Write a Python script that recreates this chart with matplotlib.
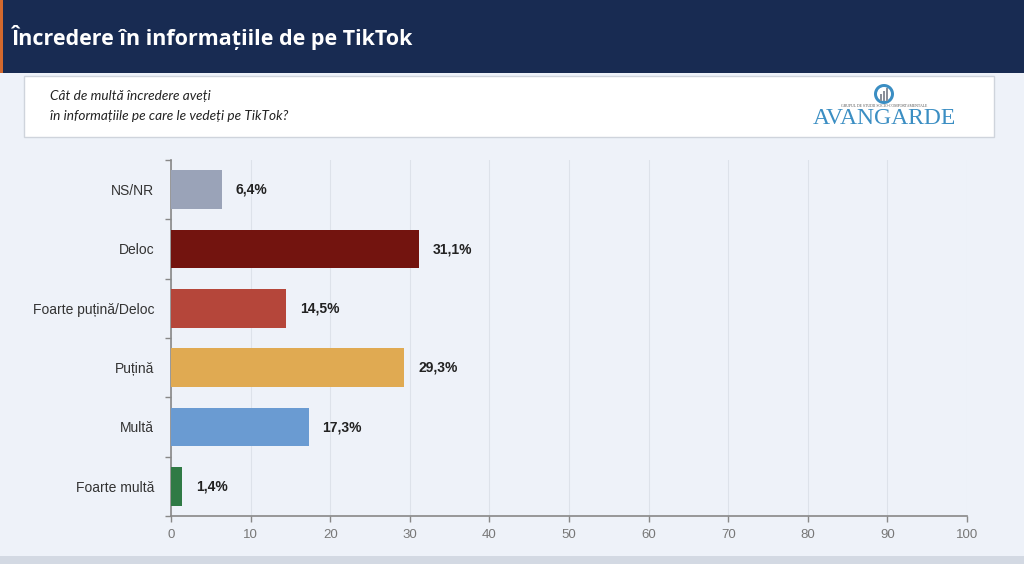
import matplotlib.pyplot as plt
from matplotlib.patches import Rectangle, Ellipse

# date sondaj
categorii = ["NS/NR", "Deloc", "Foarte puțină/Deloc", "Puțină", "Multă", "Foarte multă"]
valori = [6.4, 31.1, 14.5, 29.3, 17.3, 1.4]
etichete = ["6,4%", "31,1%", "14,5%", "29,3%", "17,3%", "1,4%"]
culori = ["#9aa3b8", "#73140f", "#b5463a", "#e0aa52", "#6a9bd2", "#2f7a45"]
ticks_x = [0, 10, 20, 30, 40, 50, 60, 70, 80, 90, 100]

titlu = "Încredere în informațiile de pe TikTok"
intrebare = "Cât de multă încredere aveți\nîn informațiile pe care le vedeți pe TikTok?"

W, H = 1024, 564
fig = plt.figure(figsize=(W / 100, H / 100), dpi=100)
fig.patch.set_facecolor("#eef2f9")

# bara de titlu
fig.patches.append(Rectangle((0, 1 - 73 / H), 1, 73 / H, transform=fig.transFigure,
                             facecolor="#182b52", edgecolor="none", zorder=0))
fig.patches.append(Rectangle((0, 1 - 73 / H), 3 / W, 73 / H, transform=fig.transFigure,
                             facecolor="#d2692e", edgecolor="none", zorder=1))
fig.text(12 / W, 1 - 37 / H, titlu, color="white", fontsize=15.5, fontweight="bold",
         family="Open Sans", va="center", ha="left")

# caseta cu intrebarea
fig.patches.append(Rectangle((24 / W, 1 - 137 / H), 970 / W, 61 / H, transform=fig.transFigure,
                             facecolor="white", edgecolor="#cfd4dc", linewidth=1, zorder=1))
fig.text(50 / W, 1 - 106.5 / H, intrebare, color="#222222", fontsize=9.8, style="italic",
         family="Lato", va="center", ha="left", linespacing=1.8)

# logo
fig.text(884 / W, 1 - 119 / H, "AVANGARDE", color="#3b8ec3", fontsize=17,
         family="Liberation Serif", va="center", ha="center")
fig.text(884 / W, 1 - 106 / H, "GRUPUL DE STUDII SOCIO-COMPORTAMENTALE", color="#555555",
         fontsize=2.8, family="Liberation Serif", va="center", ha="center")
fig.patches.append(Ellipse((884 / W, 1 - 94 / H), 20 / W, 20 / H, transform=fig.transFigure,
                           facecolor="#3b8ec3", edgecolor="none", zorder=2))
fig.patches.append(Ellipse((884 / W, 1 - 94 / H), 14 / W, 14 / H, transform=fig.transFigure,
                           facecolor="white", edgecolor="none", zorder=3))
for dx, h in [(-3, 7), (0, 10), (3, 13)]:
    fig.patches.append(Rectangle(((884 + dx - 1) / W, 1 - 101 / H), 2 / W, h / H,
                                 transform=fig.transFigure, facecolor="#8a8f99",
                                 edgecolor="none", zorder=4))

# banda de jos
fig.patches.append(Rectangle((0, 0), 1, 8 / H, transform=fig.transFigure,
                             facecolor="#d3d9e3", edgecolor="none", zorder=0))

# grafic
ax = fig.add_axes([171 / W, 48 / H, 796 / W, 356 / H])
ax.set_facecolor("none")
y = list(range(len(categorii)))
bare = ax.barh(y, valori, height=0.65, color=culori, zorder=3)
ax.set_ylim(len(categorii) - 0.5, -0.5)
ax.set_xlim(0, 100)

for bara, txt in zip(bare, etichete):
    ax.annotate(txt, (bara.get_width(), bara.get_y() + bara.get_height() / 2),
                xytext=(10, 0), textcoords="offset points", va="center", ha="left",
                fontsize=10, fontweight="bold", color="#222222", family="Liberation Sans")

ax.set_yticks(y)
ax.set_yticklabels(categorii, fontsize=10, color="#333333", family="Liberation Sans")
ax.set_yticks([i - 0.5 for i in range(len(categorii) + 1)], minor=True)
ax.tick_params(axis="y", which="major", length=0, pad=12)
ax.tick_params(axis="y", which="minor", length=4, color="#888888", width=1)

ax.set_xticks(ticks_x)
ax.set_xticklabels([str(t) for t in ticks_x], fontsize=9.5, color="#777777",
                   family="Liberation Sans")
ax.tick_params(axis="x", length=4, color="#888888", width=1, pad=5)

ax.grid(axis="x", color="#dde2ea", linewidth=0.8, zorder=0)
for s in ["top", "right"]:
    ax.spines[s].set_visible(False)
for s in ["left", "bottom"]:
    ax.spines[s].set_color("#888888")
    ax.spines[s].set_linewidth(1.2)

fig.savefig("out.png", dpi=100, facecolor=fig.get_facecolor())
